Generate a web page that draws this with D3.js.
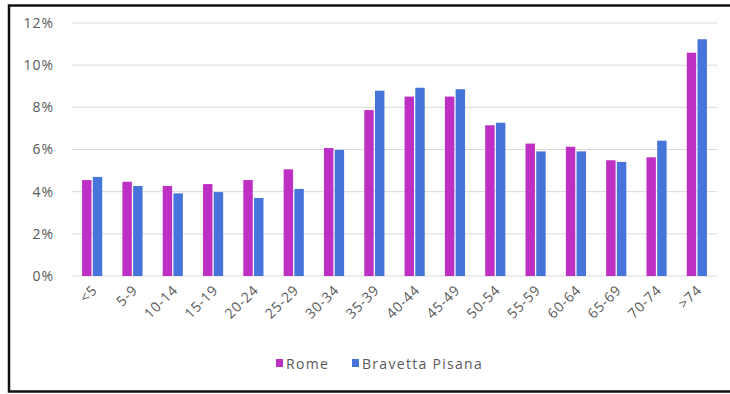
<!DOCTYPE html>
<html><head><meta charset="utf-8">
<script src="https://cdn.jsdelivr.net/npm/d3@7"></script>
<style>
html,body{margin:0;padding:0;background:#fff;}
text{font-family:"Open Sans","DejaVu Sans",sans-serif;fill:#595959;}
</style></head>
<body>
<svg id="chart" width="730" height="394"></svg>
<script>
const categories = ["<5","5-9","10-14","15-19","20-24","25-29","30-34","35-39","40-44","45-49","50-54","55-59","60-64","65-69","70-74",">74"];
const rome = [4.55,4.47,4.27,4.36,4.55,5.06,6.07,7.87,8.51,8.51,7.15,6.28,6.13,5.49,5.63,10.59];
const bravetta = [4.70,4.27,3.92,3.98,3.70,4.13,5.98,8.79,8.93,8.86,7.27,5.91,5.91,5.41,6.42,11.23];
const seriesNames = ["Rome","Bravetta Pisana"];
const seriesColors = ["#BE2FC4","#4674DA"];
const yTicks = [0,2,4,6,8,10,12];

const svg = d3.select("#chart");
// outer border
svg.append("rect").attr("x",9).attr("y",5.5).attr("width",740).attr("height",386)
  .attr("fill","none").attr("stroke","#111").attr("stroke-width",2.5);

const x0 = d3.scaleBand().domain(categories).range([72,717]).paddingInner(0.5).paddingOuter(0.25);
const x1 = d3.scaleBand().domain(seriesNames).range([0,x0.bandwidth()]).paddingInner(0.12);
const y = d3.scaleLinear().domain([0,12]).range([276,23]);

// gridlines
svg.append("g").selectAll("line").data(yTicks).join("line")
  .attr("x1",72).attr("x2",717).attr("y1",d=>y(d)).attr("y2",d=>y(d))
  .attr("stroke","#d9d9d9").attr("stroke-width",1);

// y axis labels
const yAxis = d3.axisLeft(y).tickValues(yTicks).tickFormat(d=>d+"%").tickSize(0).tickPadding(0);
const ya = svg.append("g").attr("transform","translate(54,0)").call(yAxis);
ya.select(".domain").remove();
ya.selectAll("text").style("font-size","14px").style("letter-spacing","1px")
  .attr("fill","#595959").style("font-family","'Open Sans',sans-serif");

// bars
const data = categories.map((c,i)=>({c, vals:[rome[i],bravetta[i]]}));
const g = svg.append("g");
data.forEach(d=>{
  d.vals.forEach((v,j)=>{
    g.append("rect").attr("x",x0(d.c)+x1(seriesNames[j])).attr("width",x1.bandwidth())
      .attr("y",y(v)).attr("height",y(0)-y(v)).attr("fill",seriesColors[j]);
  });
});

// x axis labels
const xAxis = d3.axisBottom(x0).tickSize(0).tickPadding(0);
const xa = svg.append("g").attr("transform","translate(2,285)").call(xAxis);
xa.select(".domain").remove();
xa.selectAll("text").style("font-size","14px").style("letter-spacing","0.8px")
  .style("font-family","'Open Sans',sans-serif")
  .attr("fill","#595959")
  .attr("text-anchor","end").attr("dy","0.5em").attr("dx","-0.1em")
  .attr("transform","rotate(-45)");

// legend
const leg = svg.append("g");
const legX = [276,352];
seriesNames.forEach((n,j)=>{
  leg.append("rect").attr("x",legX[j]).attr("y",359).attr("width",7).attr("height",8).attr("fill",seriesColors[j]);
  leg.append("text").attr("x",legX[j]+10).attr("y",369).text(n)
    .style("font-size","14px").style("letter-spacing","1.3px");
});
</script>
</body></html>
